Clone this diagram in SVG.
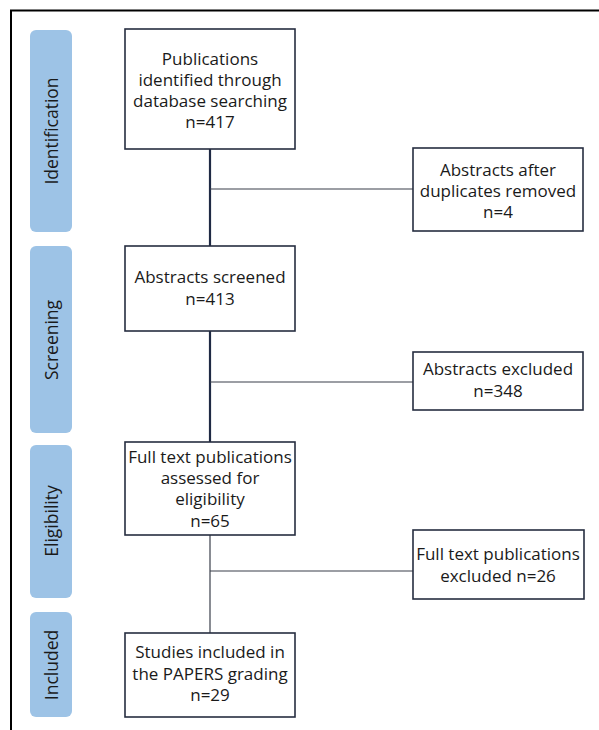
<svg xmlns="http://www.w3.org/2000/svg" width="599" height="730" viewBox="0 0 599 730">
<style>
.bar{fill:#9dc3e6}
.box{fill:#fff;stroke:#262d40;stroke-width:1.6}
.t{font-family:"Open Sans","Noto Sans",sans-serif;font-size:17px;fill:#1a1a1a;text-anchor:middle}
.s{font-family:"Open Sans","Noto Sans",sans-serif;font-size:17.5px;fill:#1a1a1a;text-anchor:middle}
.thick{stroke:#1f2a44;stroke-width:2.2;fill:none}
.thin{stroke:#3a3f4a;stroke-width:1.2;fill:none}
</style>
<rect width="599" height="730" fill="#fff"/>
<path d="M11 730 V10.5 H599" fill="none" stroke="#000" stroke-width="2"/>
<g id="stage-identification"><rect class="bar" x="30" y="30" width="42" height="202" rx="6"/><text class="s" transform="translate(58,131) rotate(-90)">Identification</text></g>
<g id="stage-screening"><rect class="bar" x="30" y="246" width="42" height="187" rx="6"/><text class="s" transform="translate(58,340) rotate(-90)">Screening</text></g>
<g id="stage-eligibility"><rect class="bar" x="30" y="445" width="42" height="153" rx="6"/><text class="s" transform="translate(58,521) rotate(-90)">Eligibility</text></g>
<g id="stage-included"><rect class="bar" x="30" y="612" width="42" height="105" rx="6"/><text class="s" transform="translate(58,665) rotate(-90)">Included</text></g>
<g id="connectors">
<path class="thick" d="M210 149 V246"/>
<path class="thick" d="M210 331 V442"/>
<path class="thin" d="M210 535 V633"/>
<path class="thin" d="M210 189 H413"/>
<path class="thin" d="M210 382 H413"/>
<path class="thin" d="M210 571 H413"/>
</g>
<g id="n1"><rect class="box" x="125" y="29" width="170" height="120"/>
<text class="t" x="210" y="65">Publications</text><text class="t" x="210" y="86">identified through</text><text class="t" x="210" y="107">database searching</text><text class="t" x="210" y="128">n=417</text></g>
<g id="n2"><rect class="box" x="413" y="148" width="170" height="83"/>
<text class="t" x="498" y="176">Abstracts after</text><text class="t" x="498" y="197">duplicates removed</text><text class="t" x="498" y="218">n=4</text></g>
<g id="n3"><rect class="box" x="125" y="246" width="170" height="85"/>
<text class="t" x="210" y="283">Abstracts screened</text><text class="t" x="210" y="305">n=413</text></g>
<g id="n4"><rect class="box" x="413" y="352" width="170" height="58"/>
<text class="t" x="498" y="375">Abstracts excluded</text><text class="t" x="498" y="397">n=348</text></g>
<g id="n5"><rect class="box" x="125" y="442" width="170" height="93"/>
<text class="t" x="210" y="463">Full text publications</text><text class="t" x="210" y="484">assessed for</text><text class="t" x="210" y="505">eligibility</text><text class="t" x="210" y="527">n=65</text></g>
<g id="n6"><rect class="box" x="413" y="530" width="171" height="69"/>
<text class="t" x="498" y="560">Full text publications</text><text class="t" x="498" y="582">excluded n=26</text></g>
<g id="n7"><rect class="box" x="125" y="633" width="170" height="84"/>
<text class="t" x="210" y="658">Studies included in</text><text class="t" x="210" y="680">the PAPERS grading</text><text class="t" x="210" y="701">n=29</text></g>
</svg>
